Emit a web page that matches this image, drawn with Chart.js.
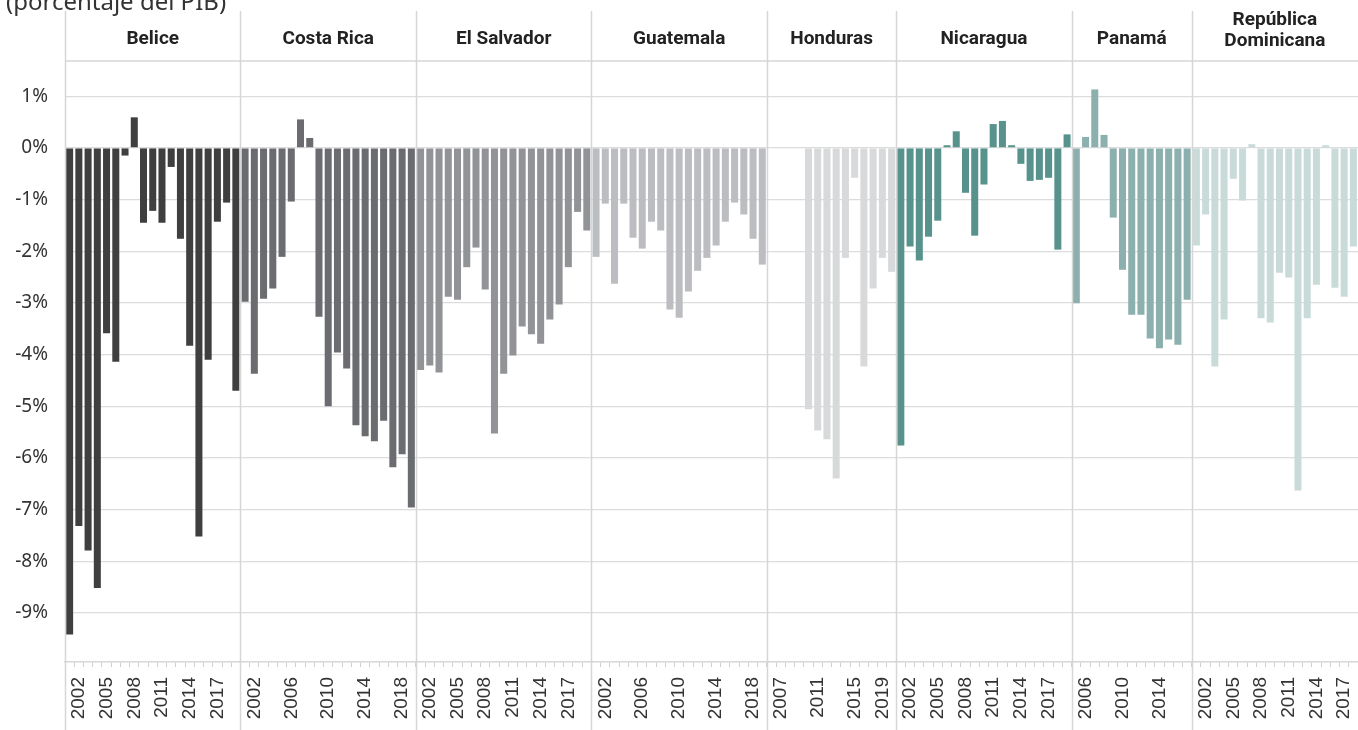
<!DOCTYPE html>
<html>
<head>
<meta charset="utf-8">
<script src="https://cdn.jsdelivr.net/npm/chart.js@4"></script>
<style>
  html, body { margin: 0; padding: 0; background: #fff; }
  canvas { display: block; }
</style>
</head>
<body>
<canvas id="deficit" width="1358" height="730"></canvas>
<script>
// Balance fiscal por país (porcentaje del PIB)
const countries = ['Belice', 'Costa Rica', 'El Salvador', 'Guatemala', 'Honduras', 'Nicaragua', 'Panamá', ['República', 'Dominicana']];

const years2001to2019 = ['2001', '2002', '2003', '2004', '2005', '2006', '2007', '2008', '2009', '2010',
    '2011', '2012', '2013', '2014', '2015', '2016', '2017', '2018', '2019'];
const hondurasYears = ['2006', '2007', '2008', '2009', '2010', '2011', '2012', '2013', '2014', '2015',
    '2016', '2018', '2019', '2020'];
const panamaYears = ['2005', '2006', '2007', '2008', '2009', '2010', '2011', '2012', '2013', '2014',
    '2015', '2016', '2017'];
const dominicanaYears = ['2001', '2002', '2003', '2004', '2005', '2006', '2007', '2008', '2009', '2010',
    '2011', '2012', '2013', '2014', '2015', '2016', '2017', '2018'];

const belice = [-9.42, -7.32, -7.79, -8.52, -3.59, -4.14, -0.15, 0.59, -1.45, -1.22, -1.45, -0.37, -1.76, -3.83, -7.52, -4.10, -1.43, -1.06, -4.70];
const costaRica = [-2.98, -4.37, -2.92, -2.72, -2.11, -1.04, 0.55, 0.19, -3.27, -5.00, -3.96, -4.27, -5.37, -5.58, -5.68, -5.28, -6.18, -5.93, -6.96];
const elSalvador = [-4.30, -4.21, -4.35, -2.88, -2.94, -2.31, -1.93, -2.74, -5.53, -4.37, -4.02, -3.46, -3.61, -3.79, -3.32, -3.03, -2.31, -1.24, -1.60];
const guatemala = [-2.11, -1.08, -2.63, -1.08, -1.74, -1.95, -1.43, -1.60, -3.13, -3.29, -2.78, -2.38, -2.13, -1.89, -1.43, -1.06, -1.29, -1.76, -2.26];
const honduras = [null, null, null, null, -5.06, -5.47, -5.64, -6.40, -2.13, -0.58, -4.23, -2.72, -2.13, -2.40];
const nicaragua = [-5.76, -1.91, -2.18, -1.72, -1.41, 0.05, 0.32, -0.87, -1.70, -0.71, 0.46, 0.52, 0.05, -0.31, -0.64, -0.62, -0.58, -1.97, 0.26];
const panama = [-3.01, 0.21, 1.13, 0.25, -1.35, -2.36, -3.23, -3.23, -3.69, -3.88, -3.71, -3.81, -2.94];
const dominicana = [-1.89, -1.29, -4.23, -3.32, -0.60, -1.02, 0.07, -3.30, -3.38, -2.42, -2.51, -6.63, -3.30, -2.65, 0.05, -2.71, -2.88, -1.91];

// etiquetas visibles del eje x en cada panel
const ticksEvery3 = ['2002', '2005', '2008', '2011', '2014', '2017'];
const ticksEvery4 = ['2002', '2006', '2010', '2014', '2018'];
const hondurasTicks = ['2007', '2011', '2015', '2019'];
const panamaTicks = ['2006', '2010', '2014'];

const yTickValues = [1, 0, -1, -2, -3, -4, -5, -6, -7, -8, -9];

const panels = [
    { years: years2001to2019, values: belice, color: '#3f3f3f', ticks: ticksEvery3 },
    { years: years2001to2019, values: costaRica, color: '#6b6c70', ticks: ticksEvery4 },
    { years: years2001to2019, values: elSalvador, color: '#929397', ticks: ticksEvery3 },
    { years: years2001to2019, values: guatemala, color: '#bcbdc0', ticks: ticksEvery4 },
    { years: hondurasYears, values: honduras, color: '#d8d9da', ticks: hondurasTicks },
    { years: years2001to2019, values: nicaragua, color: '#57938c', ticks: ticksEvery3 },
    { years: panamaYears, values: panama, color: '#8bb0ad', ticks: panamaTicks },
    { years: dominicanaYears, values: dominicana, color: '#c9dbd9', ticks: ticksEvery3 }
];

// una sola serie de categorías: cada panel ocupa un tramo de años
const labels = [];
const values = [];
const colors = [];
const shown = [];
const starts = [];
panels.forEach(p => {
    starts.push(labels.length);
    p.years.forEach((y, i) => {
        labels.push(y);
        values.push(p.values[i]);
        colors.push(p.color);
        shown.push(p.ticks.includes(y));
    });
});
starts.push(labels.length);

const GRID = '#d6d6d6';

const panelFrame = {
    id: 'panelFrame',
    afterDraw(chart) {
        const { ctx, chartArea, canvas } = chart;
        const slot = chartArea.width / labels.length;
        ctx.save();

        // línea bajo los títulos
        ctx.strokeStyle = GRID;
        ctx.lineWidth = 1.5;
        ctx.beginPath();
        ctx.moveTo(chartArea.left, chartArea.top);
        ctx.lineTo(chartArea.right, chartArea.top);
        ctx.stroke();

        // separadores verticales
        starts.slice(0, -1).forEach(s => {
            const x = Math.round(chartArea.left + s * slot) + 0.5;
            ctx.beginPath();
            ctx.moveTo(x, 11);
            ctx.lineTo(x, canvas.height);
            ctx.stroke();
        });

        // títulos de los paneles
        ctx.fillStyle = '#222';
        ctx.font = 'bold 19px Roboto, "Noto Sans", sans-serif';
        ctx.textAlign = 'center';
        ctx.textBaseline = 'middle';
        countries.forEach((name, i) => {
            const cx = chartArea.left + (starts[i] + starts[i + 1]) / 2 * slot;
            if (Array.isArray(name)) {
                ctx.fillText(name[0], cx, 20);
                ctx.fillText(name[1], cx, 41);
            } else {
                ctx.fillText(name, cx, 39);
            }
        });

        // subtítulo recortado arriba
        ctx.fillStyle = '#333';
        ctx.font = '24px "Noto Sans", sans-serif';
        ctx.textAlign = 'left';
        ctx.textBaseline = 'alphabetic';
        ctx.fillText('(porcentaje del PIB)', 6, 10);
        ctx.restore();
    }
};

new Chart(document.getElementById('deficit'), {
    type: 'bar',
    data: {
        labels: labels,
        datasets: [{
            data: values,
            backgroundColor: colors,
            barPercentage: 0.76,
            categoryPercentage: 1
        }]
    },
    options: {
        responsive: false,
        animation: false,
        layout: { padding: { top: 61, left: 0, right: 0, bottom: 0 } },
        plugins: {
            legend: { display: false },
            tooltip: { enabled: false }
        },
        scales: {
            x: {
                grid: {
                    drawOnChartArea: false,
                    drawTicks: true,
                    tickLength: 5,
                    tickColor: '#cfcfcf'
                },
                border: { display: true, color: GRID, width: 1.5 },
                ticks: {
                    autoSkip: false,
                    maxRotation: 90,
                    minRotation: 90,
                    padding: 10,
                    color: '#333',
                    font: { family: '"Liberation Sans", Arial, sans-serif', size: 19 },
                    callback: (value, index) => shown[index] ? labels[index] : ''
                },
                afterFit: s => {
                    s.height = 68;
                    s.paddingLeft = 0;
                    s.paddingRight = 0;
                }
            },
            y: {
                min: -9.95,
                max: 1.68,
                grid: { color: '#dcdcdc', lineWidth: 1.2, drawTicks: false },
                border: { display: false },
                ticks: {
                    padding: 17,
                    color: '#333',
                    font: { family: '"Noto Sans", sans-serif', size: 19 },
                    callback: v => v + '%'
                },
                afterBuildTicks: s => {
                    s.ticks = yTickValues.map(v => ({ value: v }));
                },
                afterFit: s => {
                    s.width = 65;
                    s.paddingTop = 0;
                    s.paddingBottom = 0;
                }
            }
        }
    },
    plugins: [panelFrame]
});
</script>
</body>
</html>
